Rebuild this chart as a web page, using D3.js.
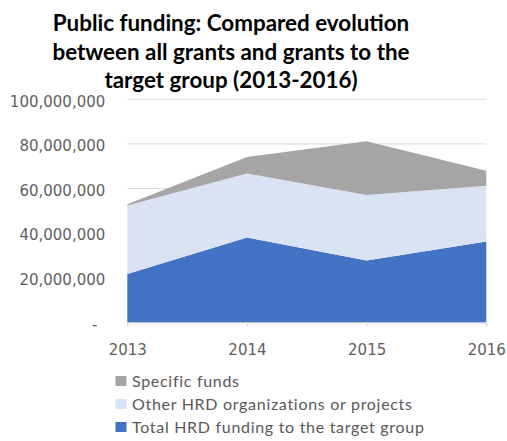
<!DOCTYPE html>
<html><head><meta charset="utf-8">
<script src="https://cdn.jsdelivr.net/npm/d3@7"></script>
<style>
html,body{margin:0;padding:0;background:#fff;}
svg{display:block;}
</style></head>
<body>
<svg id="chart" width="507" height="441"></svg>
<script>
const titleLines = ["Public funding: Compared evolution", "between all grants and grants to the", "target group (2013-2016)"];
const years = ["2013", "2014", "2015", "2016"];
const totalHRD = [21700000, 38100000, 27800000, 36300000];
const otherHRD = [30700000, 28700000, 29300000, 25000000];
const specificFunds = [600000, 7400000, 24100000, 6700000];
const yTicks = [0, 20000000, 40000000, 60000000, 80000000, 100000000];
const seriesNames = ["Total HRD funding to the target group", "Other HRD organizations or projects", "Specific funds"];
const seriesColors = ["#4472C4", "#DAE3F3", "#A5A5A5"];

const svg = d3.select("#chart");
const x = d3.scalePoint().domain(years).range([127.3, 486.3]);
const y = d3.scaleLinear().domain([0, 100000000]).range([322.5, 99.3]);

// gridlines
svg.append("g").selectAll("line").data(yTicks.filter(d => d > 0)).join("line")
  .attr("x1", x.range()[0]).attr("x2", x.range()[1])
  .attr("y1", d => y(d)).attr("y2", d => y(d))
  .attr("stroke", "#d9d9d9").attr("stroke-width", 1);

// stacked data
const table = years.map((yr, i) => ({ year: yr, s0: totalHRD[i], s1: otherHRD[i], s2: specificFunds[i] }));
const stack = d3.stack().keys(["s0", "s1", "s2"]);
const stacked = stack(table);
const area = d3.area().x(d => x(d.data.year)).y0(d => y(d[0])).y1(d => y(d[1]));
svg.append("g").selectAll("path").data(stacked).join("path")
  .attr("d", area).attr("fill", (d, i) => seriesColors[i]);

// x axis
const xAxis = d3.axisBottom(x).tickSize(4).tickPadding(18);
const gx = svg.append("g").attr("transform", `translate(0,${y(0)})`).call(xAxis);
gx.select(".domain").attr("stroke", "#d9d9d9");
gx.selectAll(".tick line").attr("stroke", "#d9d9d9");
gx.selectAll(".tick text").attr("fill", "#5f5f5f").attr("font-family", "DejaVu Sans").attr("font-size", 15);

// y axis labels
const fmt = d => d === 0 ? "-" : d3.format(",")(d);
const yAxis = d3.axisLeft(y).tickValues(yTicks).tickFormat(fmt).tickSize(0).tickPadding(22);
const gy = svg.append("g").attr("transform", `translate(127.3,0)`).call(yAxis);
gy.select(".domain").remove();
gy.selectAll(".tick text").attr("fill", "#5f5f5f").attr("font-family", "DejaVu Sans").attr("font-size", 15)
  .attr("dy", "0.45em")
  .attr("dx", d => d === 0 ? -8 : 0);

// title
const title = svg.append("text").attr("text-anchor", "middle")
  .attr("font-family", "Lato").attr("font-weight", "bold").attr("font-size", 22.4).attr("fill", "#000");
titleLines.forEach((t, i) => {
  title.append("tspan").attr("x", 231).attr("y", 31 + i * 28.5).text(t);
});

// legend
const legendOrder = [2, 1, 0];
const lg = svg.append("g");
legendOrder.forEach((si, r) => {
  const g = lg.append("g").attr("transform", `translate(115.5,${386.5 + r * 23})`);
  g.append("rect").attr("x", 0).attr("y", -10.5).attr("width", 11).attr("height", 10).attr("fill", seriesColors[si]);
  g.append("text").attr("x", 16.5).attr("y", 0).attr("fill", "#595959")
    .attr("font-family", "Lato").attr("font-size", 16).attr("letter-spacing", 0.7).text(seriesNames[si]);
});
</script>
</body></html>
